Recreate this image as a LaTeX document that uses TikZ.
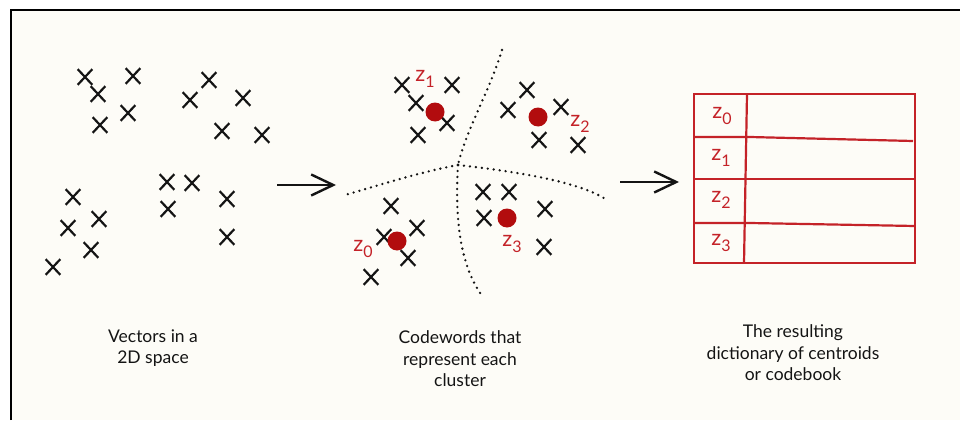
\documentclass[tikz,border=0pt]{standalone}
\usepackage{fontspec}
\setmainfont{Lato}
\usetikzlibrary{shapes.misc,arrows.meta}
\definecolor{paper}{RGB}{253,252,247}
\definecolor{ink}{RGB}{20,20,20}
\definecolor{codered}{RGB}{196,34,40}
\definecolor{dotred}{RGB}{178,12,14}
\newcommand{\zlab}[1]{z\raisebox{-0.55ex}{\fontsize{16}{16}\selectfont #1}}
\begin{document}
\begin{tikzpicture}[x=1pt,y=-1pt,
  vec/.style={draw=ink,cross out,line width=2.2pt,minimum width=12.5pt,minimum height=13.5pt,inner sep=0pt},
  codeword/.style={circle,fill=dotred,minimum size=19pt,inner sep=0pt},
  zlabel/.style={text=codered,font=\fontsize{22}{22}\selectfont,inner sep=0pt},
  border/.style={draw=black,line width=2.6pt},
  boundary/.style={draw=ink,line width=2.6pt,line cap=round,dash pattern=on 0pt off 6pt},
  flow/.style={draw=ink,line width=2.4pt,-{Straight Barb[length=22pt,width=21pt,line width=2.4pt]}},
  tableline/.style={draw=codered,line width=2.2pt},
  caption/.style={align=center,font=\fontsize{17.5}{21.5}\selectfont,text=ink,inner sep=0pt}]
\useasboundingbox (0,0) rectangle (960,420);
% page and frame
\fill[white] (0,0) rectangle (960,420);
\fill[paper] (10,10) rectangle (960,420);
\draw[border] (11,420) -- (11,10) -- (960,10);

% ---------- left panel: raw vectors ----------
\node[vec] (a1) at (85,77) {};
\node[vec] (a2) at (133,76) {};
\node[vec] (a3) at (98,94) {};
\node[vec] (a4) at (128,113) {};
\node[vec] (a5) at (100,125) {};
\node[vec] (b1) at (209,80) {};
\node[vec] (b2) at (190,100) {};
\node[vec] (b3) at (243,98) {};
\node[vec] (b4) at (222,131) {};
\node[vec] (b5) at (262,135) {};
\node[vec] (c1) at (167,182) {};
\node[vec] (c2) at (192,183) {};
\node[vec] (c3) at (168,209) {};
\node[vec] (c4) at (227,199) {};
\node[vec] (c5) at (227,237) {};
\node[vec] (d1) at (73,197) {};
\node[vec] (d2) at (99,219) {};
\node[vec] (d3) at (68,228) {};
\node[vec] (d4) at (91,250) {};
\node[vec] (d5) at (53,267) {};
\node[caption] (cap1) at (153,348) {Vectors in a\\2D space};

% ---------- middle panel: clusters and codewords ----------
\coordinate (hub) at (458,165);
\coordinate (bTop) at (502,50);
\coordinate (bLeft) at (345,195);
\coordinate (bRight) at (607,200);
\coordinate (bBottom) at (483,297);
\draw[boundary] (bTop) .. controls (490,90) and (466,130) .. (hub);
\draw[boundary] (hub) .. controls (420,172) and (380,185) .. (bLeft);
\draw[boundary] (hub) .. controls (520,172) and (580,182) .. (bRight);
\draw[boundary] (hub) .. controls (456,200) and (455,260) .. (bBottom);

% cluster 1 (upper left)
\node[vec] (m11) at (402,85) {};
\node[vec] (m12) at (452,85) {};
\node[vec] (m13) at (416,103) {};
\node[vec] (m14) at (447,123) {};
\node[vec] (m15) at (418,135) {};
\node[codeword] (z1) at (435,112) {};
\node[zlabel] (lz1) at (425,79) {\zlab{1}};
% cluster 2 (upper right)
\node[vec] (m21) at (527,90) {};
\node[vec] (m22) at (508,110) {};
\node[vec] (m23) at (561,107) {};
\node[vec] (m24) at (539,140) {};
\node[vec] (m25) at (578,145) {};
\node[codeword] (z2) at (538,117) {};
\node[zlabel] (lz2) at (580,124) {\zlab{2}};
% cluster 0 (lower left)
\node[vec] (m01) at (391,206) {};
\node[vec] (m02) at (417,228) {};
\node[vec] (m03) at (384,237) {};
\node[vec] (m04) at (408,258) {};
\node[vec] (m05) at (371,277) {};
\node[codeword] (z0) at (397,241) {};
\node[zlabel] (lz0) at (363,249) {\zlab{0}};
% cluster 3 (lower right)
\node[vec] (m31) at (483,192) {};
\node[vec] (m32) at (509,192) {};
\node[vec] (m33) at (484,218) {};
\node[vec] (m34) at (545,209) {};
\node[vec] (m35) at (544,247) {};
\node[codeword] (z3) at (507,218) {};
\node[zlabel] (lz3) at (512,244) {\zlab{3}};
\node[caption] (cap2) at (460,359) {Codewords that\\represent each\\cluster};

% ---------- right panel: codebook ----------
\draw[tableline] (694,94) rectangle (915,263);
\draw[tableline] (747,94) -- (744,263);
\draw[tableline] (694,137) -- (750,137) -- (913,141);
\draw[tableline] (694,179) -- (915,179);
\draw[tableline] (694,223) -- (750,223) -- (915,226);
\node[zlabel] (t0) at (722,116) {\zlab{0}};
\node[zlabel] (t1) at (721,158) {\zlab{1}};
\node[zlabel] (t2) at (721,200) {\zlab{2}};
\node[zlabel] (t3) at (721,243) {\zlab{3}};
\coordinate (book) at (694,182);
\node[caption] (cap3) at (793,353) {The resulting\\dictionary of centroids\\or codebook};

% ---------- flow arrows ----------
\coordinate (fromVecs) at (277,185);
\coordinate (toClusters) at (336,185);
\coordinate (fromClusters) at (620,182);
\coordinate (toBook) at (679,182);
\draw[flow] (fromVecs) -- (toClusters);
\draw[flow] (fromClusters) -- (toBook);
\end{tikzpicture}
\end{document}
